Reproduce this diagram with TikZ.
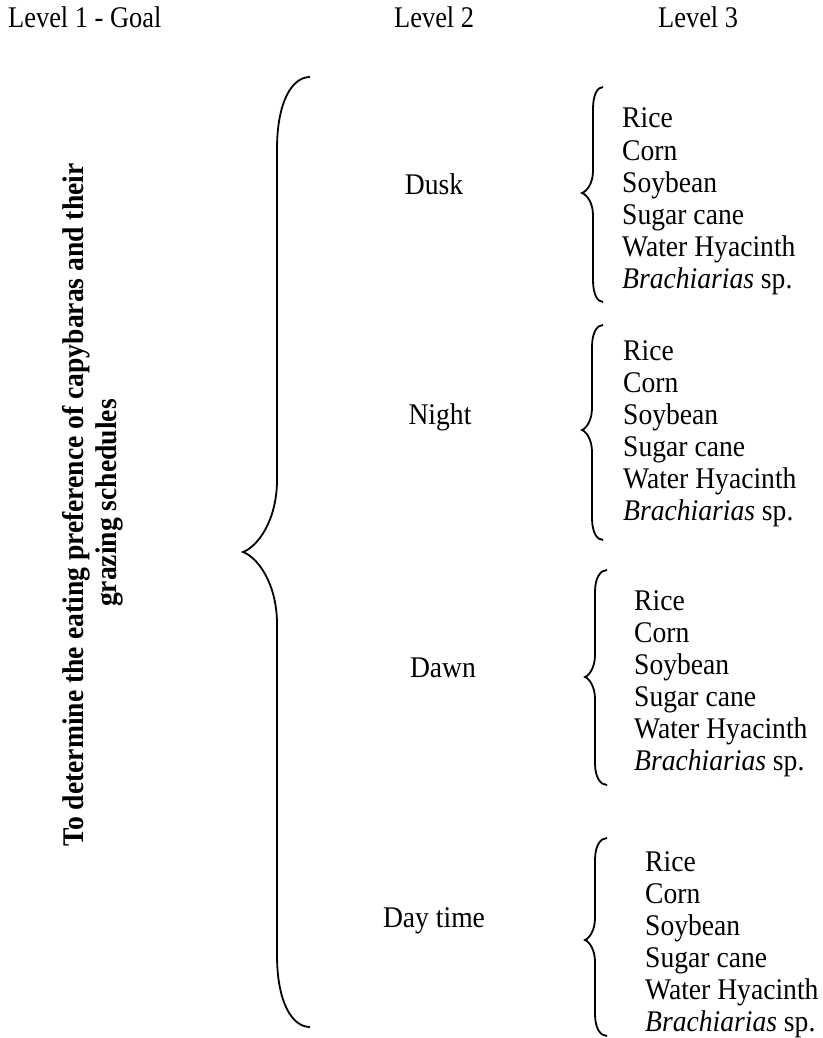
\documentclass[tikz,border=0pt]{standalone}
\usepackage{fontspec}
\setmainfont{Liberation Serif}[FakeStretch=0.92]
\newfontfamily\hdrfont{Liberation Serif}[FakeStretch=0.88]
\newcommand\fooditems[3]{%
  \foreach \t [count=\i] in {Rice,Corn,Soybean,Sugar cane,Water Hyacinth,{\textit{Brachiarias} sp.}}
    \node[item] (#1-\i) at (#2,{#3+32*(\i-1)}) {\t};
}
\newcommand\drawbrace[7]{% #1 end x, #2 vertical x, #3 tip x, #4 top y, #5 tip y, #6 bottom y, #7 curve length
  \draw[bracestyle] (#1,#4) .. controls ({#2+0.45*(#1-#2)},#4) and (#2,{#4+0.35*#7}) .. (#2,{#4+#7})
    -- (#2,{#5-#7}) .. controls (#2,{#5-0.45*#7}) and ({#3+0.45*(#2-#3)},{#5-0.08*#7}) .. (#3,#5)
    .. controls ({#3+0.45*(#2-#3)},{#5+0.08*#7}) and (#2,{#5+0.45*#7}) .. (#2,{#5+#7})
    -- (#2,{#6-#7}) .. controls (#2,{#6-0.35*#7}) and ({#2+0.45*(#1-#2)},#6) .. (#1,#6);
}
\begin{document}
\begin{tikzpicture}[x=1pt,y=-1pt,
  hdr/.style={font=\hdrfont\fontsize{30}{32}\selectfont, anchor=base west, inner sep=0pt},
  lvl/.style={font=\fontsize{30}{32}\selectfont, anchor=base, inner sep=0pt},
  item/.style={font=\fontsize{30}{32}\selectfont, anchor=base west, inner sep=0pt},
  goal/.style={font=\bfseries\fontsize{30}{32}\selectfont, rotate=90, anchor=base, inner sep=0pt},
  bracestyle/.style={line width=1.8pt, black}]
\useasboundingbox (0,0) rectangle (822,1038);
% headers
\node[hdr] (h1) at (8,28) {Level 1 - Goal};
\node[hdr] (h2) at (394,28) {Level 2};
\node[hdr] (h3) at (658,28) {Level 3};
% goal
\node[goal] (goal1) at (83,505) {To determine the eating preference of capybaras and their};
\node[goal] (goal2) at (116,503) {grazing schedules};
% big brace
\drawbrace{310}{277}{243}{77}{552}{1027}{72}
% level 2
\node[lvl] (dusk) at (434,194) {Dusk};
\node[lvl] (night) at (440,424) {Night};
\node[lvl] (dawn) at (443,677) {Dawn};
\node[lvl] (day) at (434,927) {Day time};
% level 3 braces and items
\drawbrace{603}{593}{582}{87}{193}{302}{22}
\fooditems{a}{622}{128}
\drawbrace{603}{592}{582}{325}{430}{540}{22}
\fooditems{b}{623}{360}
\drawbrace{607}{595}{585}{570}{677}{785}{22}
\fooditems{c}{634}{610}
\drawbrace{607}{595}{585}{838}{940}{1036}{22}
\fooditems{d}{645}{871}
\end{tikzpicture}
\end{document}
